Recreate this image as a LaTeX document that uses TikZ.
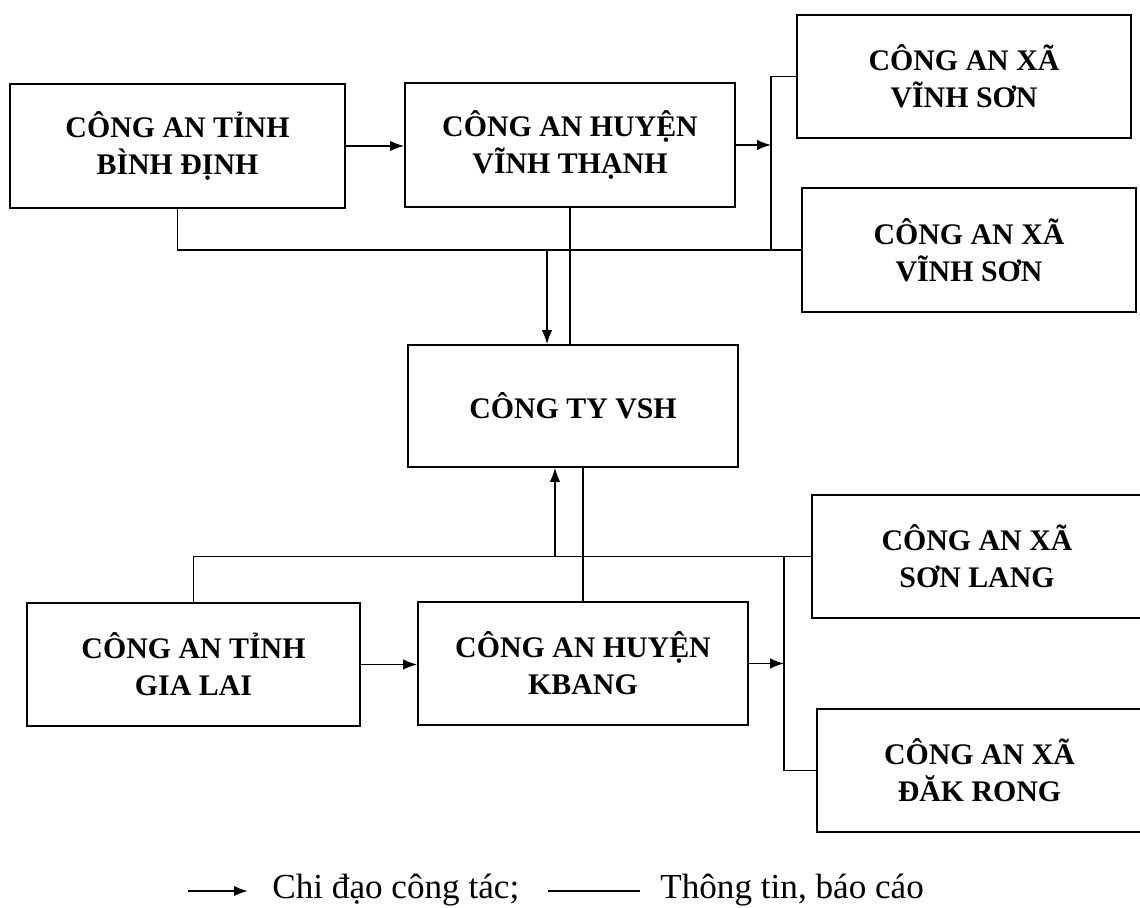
\documentclass[tikz,border=0pt]{standalone}
\usepackage{fontspec}
\setmainfont{Liberation Serif}
\usetikzlibrary{arrows.meta}

\begin{document}
\begin{tikzpicture}[
        >={Latex[length=2.8mm,width=2.1mm]},
        box/.style={draw, line width=1pt, minimum width=6.6cm, minimum height=2.46cm,
                    align=center, inner sep=0pt,
                    font=\fontsize{17pt}{21pt}\selectfont\bfseries},
        link/.style={line width=0.8pt}
    ]
            \useasboundingbox (0,0) rectangle (22.8,18.16);

            % tinh va huyen phia tren
            \node [box, minimum width=6.7cm, minimum height=2.48cm] (bd) at (3.55,15.24) {CÔNG AN TỈNH\\BÌNH ĐỊNH};
            \node [box, minimum height=2.48cm] (vt) at (11.4,15.26) {CÔNG AN HUYỆN\\VĨNH THẠNH};
            \node [box, minimum width=6.68cm] (vs1) at (19.28,16.63) {CÔNG AN XÃ\\VĨNH SƠN};
            \node [box, minimum width=6.68cm, minimum height=2.48cm] (vs2) at (19.38,13.16) {CÔNG AN XÃ\\VĨNH SƠN};

            \node [box, minimum height=2.44cm] (vsh) at (11.46,10.04) {CÔNG TY VSH};

            % tinh va huyen phia duoi
            \node [box, minimum width=6.66cm] (gl) at (3.87,4.87) {CÔNG AN TỈNH\\GIA LAI};
            \node [box] (kb) at (11.66,4.89) {CÔNG AN HUYỆN\\KBANG};
            \node [box] (sl) at (19.54,7.03) {CÔNG AN XÃ\\SƠN LANG};
            \node [box, minimum width=6.5cm] (dr) at (19.59,2.75) {CÔNG AN XÃ\\ĐĂK RONG};

            \coordinate (bus1) at (15.42,0);
            \coordinate (bus2) at (15.68,0);
            \coordinate (j1) at (10.94,0);
            \coordinate (j2) at (11.10,0);

            \draw [->, link] (bd.east) -- (bd.east -| vt.west);
            \draw [->, link] (vt.east) -- (vt.east -| bus1);
            \draw [link] (vs1.west) -| (bus1 |- vs2.west);
            \draw [link] (bd.south) |- (vs2.west);
            \draw [->, link] (j1 |- vs2.west) -- (j1 |- vsh.north);
            \draw [link] (vt.south) -- (vt.south |- vsh.north);

            \draw [->, link] (gl.east) -- (gl.east -| kb.west);
            \draw [->, link] (kb.east) -- (kb.east -| bus2);
            \draw [link] (gl.north) |- (sl.west);
            \draw [link] (bus2 |- sl.west) |- (dr.west);
            \draw [->, link] (j2 |- sl.west) -- (j2 |- vsh.south);
            \draw [link] (kb.north) -- (kb.north |- vsh.south);

            % chu thich
            \coordinate (la1) at (3.76,0.34);
            \coordinate (la2) at (4.96,0.34);
            \coordinate (ll1) at (10.96,0.34);
            \coordinate (ll2) at (12.80,0.34);
            \draw [->, line width=1.2pt] (la1) -- (la2);
            \node [anchor=west, inner sep=0pt, font=\fontsize{20pt}{24pt}\selectfont] (cd) at (5.44,0.36) {Chi đạo công tác;};
            \draw [link] (ll1) -- (ll2);
            \node [anchor=west, inner sep=0pt, font=\fontsize{20pt}{24pt}\selectfont] (tt) at (13.2,0.36) {Thông tin, báo cáo};
        \end{tikzpicture}
\end{document}
